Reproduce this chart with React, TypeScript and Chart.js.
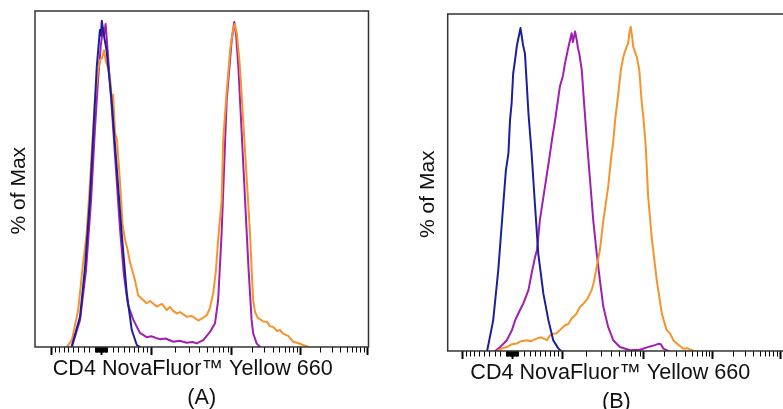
import React, { useEffect, useRef } from 'react';
import { Chart, registerables } from 'chart.js';

Chart.register(...registerables);

const FONT = '"Liberation Sans", Arial, Helvetica, sans-serif';

// Biexponential-like axis: positions (0..100 display units) of the major ticks
const MAJOR_VALUES = [-1000, 0, 1000, 10000, 100000, 1000000];
const MAJOR_U = [0, 15.7, 31.4, 57.0, 78.8, 100];
const LINEAR_WIDTH = 800; // width of the near-linear region around zero
const LINEAR_MINOR = [
  -900, -800, -700, -600, -500, -400, -300, -200, -100,
  -90, -80, -70, -60, -50, -40, -30, -20, -10,
  10, 20, 30, 40, 50, 60, 70, 80, 90,
  100, 200, 300, 400, 500, 600, 700, 800, 900,
];
const LOG_MINOR_FACTORS = [2, 3, 4, 5, 6, 7, 8, 9];
const LOG_DECADES = [1000, 10000, 100000];

// Series: [display position, % of Max]
const A_BLUE: [number, number][] = [
  [6.2, 0], [8.9, 9.3], [10.5, 24.6], [12.0, 45.1], [13.1, 65.6], [14.2, 85.9], [15.2, 97.2],
  [15.5, 95.5], [15.8, 100], [16.3, 96.5], [17.3, 91], [18.9, 75.7], [20.5, 55.3], [22.1, 34.9],
  [23.7, 16.6], [25.3, 5.2], [26.9, 0.6], [27.9, 0],
];
const A_PURPLE: [number, number][] = [
  [6.3, 0], [8.9, 8.3], [10.8, 23.6], [12.4, 45.1], [13.6, 66.5], [14.6, 81.8], [15.5, 92.6],
  [16.2, 97.8], [16.5, 95.6], [17.0, 99.0], [17.4, 94.1], [18.1, 84.9], [19.0, 72.7], [20.3, 54.3],
  [21.6, 35.9], [22.8, 22.1], [24.1, 12.9], [25.8, 8.3], [27.9, 4.3], [30.0, 3.0], [31.5, 3.3],
  [33.2, 2.7], [34.3, 2.4], [36.0, 2.6], [38.5, 1.6], [40.5, 1.9], [42.7, 1.3], [44.5, 1.5],
  [45.9, 1.1], [48.0, 2.1], [50.1, 4.6], [51.7, 7.3], [52.7, 14.4], [53.8, 34.9], [55.4, 75.7],
  [57.0, 94.1], [57.8, 99.6], [58.4, 95.6], [59.1, 85.9], [60.7, 55.3], [62.3, 24.6], [63.3, 8.3],
  [63.8, 4.2], [64.9, 1.1], [66.0, 0],
];
const A_ORANGE: [number, number][] = [
  [4.7, 0], [6.3, 2.1], [8.3, 11.3], [9.8, 25.1], [11.0, 34.9], [12.1, 51.2], [13.6, 75.7],
  [14.6, 84.3], [15.2, 88.0], [15.9, 88.6], [16.5, 91.0], [17.1, 87.4], [17.8, 85.5], [18.4, 82.5],
  [19.0, 75.7], [19.4, 77.3], [20.0, 65.6], [20.6, 63.5], [21.6, 50.3], [22.4, 37.4], [23.2, 32.8],
  [24.0, 29.7], [24.7, 26.1], [26.3, 20.5], [27.3, 15.9], [27.9, 15.3], [30.0, 13.4], [31.1, 14.1],
  [33.2, 12.4], [34.9, 13.2], [36.4, 11.3], [37.4, 12.3], [38.5, 11.0], [39.6, 10.3], [40.6, 10.7],
  [42.7, 9.3], [44.4, 9.5], [46.4, 8.1], [47.9, 8.9], [49.1, 9.8], [50.1, 12.0], [51.2, 16.9],
  [52.0, 23.6], [52.7, 32.8], [53.8, 45.1], [54.3, 63.5], [55.2, 75.7], [56.5, 91.0], [57.4, 97.2],
  [58.0, 99.0], [58.7, 95.6], [59.6, 85.9], [61.2, 60.4], [62.8, 34.9], [63.4, 22.1], [63.8, 14.4],
  [64.4, 10.7], [65.3, 8.9], [67.0, 7.8], [68.2, 7.7], [69.1, 6.4], [70.2, 6.1], [71.4, 4.9],
  [72.3, 5.2], [73.4, 4.0], [74.9, 3.4], [76.5, 1.6], [78.0, 1.2], [79.7, 0.6], [81.3, 0],
];

const B_BLUE: [number, number][] = [
  [7.7, 0], [9.6, 9.4], [11.2, 24.8], [12.8, 45.3], [13.6, 55.5], [14.4, 60.7], [14.9, 70.9],
  [15.4, 76.0], [15.9, 85.3], [16.5, 89.4], [17.1, 94.0], [18.2, 99.2], [19.0, 94.0], [19.6, 91.4],
  [20.1, 83.2], [20.7, 73.0], [21.7, 60.7], [22.8, 44.3], [23.8, 29.9], [25.4, 17.6], [27.0, 9.4],
  [28.5, 3.3], [30.1, 0.8], [31.0, 0],
];
const B_PURPLE: [number, number][] = [
  [10.2, 0], [11.7, 1.1], [13.9, 3.3], [15.5, 6.4], [16.5, 9.4], [18.0, 12.5], [19.1, 14.6],
  [20.7, 18.7], [21.7, 23.8], [22.8, 28.9], [23.4, 31.0], [24.3, 40.2], [25.9, 50.4], [27.5, 60.7],
  [28.1, 64.8], [29.1, 70.9], [30.6, 81.2], [31.6, 84.7], [32.2, 88.3], [33.3, 93.4], [33.8, 95.5],
  [34.3, 97.6], [34.7, 94.9], [35.4, 98.1], [35.9, 95.5], [36.3, 93.0], [36.7, 91.4], [37.5, 86.3],
  [38.0, 79.1], [39.0, 65.8], [40.1, 52.5], [41.1, 40.2], [42.2, 29.9], [43.2, 21.7], [44.3, 13.5],
  [45.8, 7.4], [47.4, 3.3], [49.5, 1.2], [52.7, 0.2], [55.8, 0.4], [59.0, 1.4], [60.5, 1.8],
  [61.6, 2.2], [62.4, 2.1], [63.2, 0.7], [64.7, 0],
];
const B_ORANGE: [number, number][] = [
  [10.8, 0], [12.4, 0.8], [13.9, 1.2], [15.5, 2.1], [17.0, 2.3], [18.4, 3.0], [20.2, 3.3],
  [21.5, 3.0], [23.3, 3.8], [24.7, 4.2], [26.5, 3.3], [27.5, 4.8], [28.5, 5.3], [29.4, 5.4],
  [30.6, 6.4], [32.2, 7.9], [33.2, 8.2], [34.3, 10.0], [35.7, 11.3], [36.9, 13.5], [37.9, 14.4],
  [39.0, 15.6], [40.6, 18.7], [41.3, 21.1], [42.2, 26.0], [43.2, 31.0], [44.3, 40.2], [45.8, 50.4],
  [46.9, 60.7], [47.3, 63.2], [48.0, 70.9], [49.0, 79.1], [49.8, 86.3], [50.6, 90.4], [51.6, 93.4],
  [52.1, 94.5], [52.5, 97.7], [52.9, 99.6], [53.3, 97.0], [53.7, 93.4], [54.8, 90.4], [55.6, 86.3],
  [56.4, 76.0], [56.8, 72.5], [57.4, 65.8], [57.7, 61.7], [58.4, 47.3], [59.5, 35.0], [61.1, 21.7],
  [62.7, 11.5], [64.2, 6.4], [65.3, 5.4], [66.3, 3.3], [67.4, 2.3], [69.5, 0.7], [70.9, 0.8],
  [72.6, 0],
];

const BLUE = '#1d1f9a';
const PURPLE = '#a020ae';
const ORANGE = '#f5942b';

function toU(v: number): number {
  if (Math.abs(v) <= 1000) {
    const half = MAJOR_U[2] - MAJOR_U[1];
    return MAJOR_U[1] + half * (Math.asinh(v / LINEAR_WIDTH) / Math.asinh(1000 / LINEAR_WIDTH));
  }
  const d = Math.floor(Math.log10(v) + 1e-9);
  const i = MAJOR_VALUES.indexOf(Math.pow(10, d));
  return MAJOR_U[i] + (MAJOR_U[i + 1] - MAJOR_U[i]) * (Math.log10(v) - d);
}

function axisTicks() {
  const ticks: { value: number; major: boolean }[] = [];
  MAJOR_U.forEach((u) => ticks.push({ value: u, major: true }));
  LINEAR_MINOR.forEach((v) => ticks.push({ value: toU(v), major: false }));
  LOG_DECADES.forEach((d) => LOG_MINOR_FACTORS.forEach((k) => ticks.push({ value: toU(d * k), major: false })));
  return ticks.sort((a, b) => a.value - b.value);
}

const framePlugin = {
  id: 'frame',
  afterDatasetsDraw(chart: any) {
    const { ctx, chartArea: a } = chart;
    ctx.save();
    ctx.strokeStyle = '#333';
    ctx.lineWidth = 1.5;
    ctx.strokeRect(a.left, a.top, a.right - a.left, a.bottom - a.top);
    ctx.restore();
  },
};

type PanelProps = {
  left: number;
  width: number;
  height: number;
  pad: { left: number; top: number; right: number; bottom: number };
  xMin: number;
  xMax: number;
  yMax: number;
  yTitlePad: { top: number; bottom: number };
  xTitle: string[];
  series: { points: [number, number][]; color: string }[];
};

function Panel(p: PanelProps) {
  const ref = useRef<HTMLCanvasElement>(null);
  useEffect(() => {
    const chart = new Chart(ref.current as HTMLCanvasElement, {
      type: 'line',
      data: {
        datasets: p.series.map((s) => ({
          data: s.points.map(([x, y]) => ({ x, y })),
          borderColor: s.color,
          borderWidth: 2,
          borderJoinStyle: 'round',
          borderCapStyle: 'round',
          pointRadius: 0,
          tension: 0,
          fill: false,
        })),
      },
      options: {
        animation: false,
        responsive: false,
        devicePixelRatio: 1,
        layout: { padding: p.pad },
        plugins: { legend: { display: false }, tooltip: { enabled: false } },
        scales: {
          x: {
            type: 'linear',
            min: p.xMin,
            max: p.xMax,
            border: { display: false },
            afterBuildTicks: (s: any) => {
              s.ticks = axisTicks();
            },
            ticks: { display: false, autoSkip: false },
            grid: {
              display: true,
              drawOnChartArea: false,
              drawTicks: true,
              tickLength: 8,
              tickColor: '#000',
              tickWidth: (c: any) => (c.tick && c.tick.major ? 2 : 1),
              tickBorderDash: (c: any) => (c.tick && c.tick.major ? [] : [5.5, 40]),
            },
            title: {
              display: true,
              text: p.xTitle,
              color: '#111',
              font: { family: FONT, size: 21.6, lineHeight: 1.32 },
              padding: { top: 0, bottom: 0 },
            },
          },
          y: {
            type: 'linear',
            min: 0,
            max: p.yMax,
            border: { display: false },
            ticks: { display: false },
            grid: { display: false, drawTicks: false },
            title: {
              display: true,
              text: '% of Max    ',
              color: '#111',
              font: { family: FONT, size: 21, lineHeight: 1.2 },
              padding: p.yTitlePad,
            },
          },
        },
      } as any,
      plugins: [framePlugin],
    });
    return () => chart.destroy();
  }, []);
  return (
    <canvas
      ref={ref}
      width={p.width}
      height={p.height}
      style={{ position: 'absolute', left: p.left, top: 0, width: p.width, height: p.height }}
    />
  );
}

export default function App() {
  return (
    <div
      style={{
        position: 'fixed',
        left: 0,
        top: 0,
        width: 783,
        height: 409,
        overflow: 'hidden',
        background: '#fff',
      }}
    >
      <Panel
        left={0}
        width={400}
        height={412}
        pad={{ left: 0, top: 11, right: 31.5, bottom: 0 }}
        xMin={-5.39}
        xMax={100.38}
        yMax={103}
        yTitlePad={{ top: 6.9, bottom: 2.9 }}
        xTitle={['CD4 NovaFluor™ Yellow 660   ', '(A)']}
        series={[
          { points: A_BLUE, color: BLUE },
          { points: A_ORANGE, color: ORANGE },
          { points: A_PURPLE, color: PURPLE },
        ]}
      />
      <Panel
        left={400}
        width={400}
        height={416}
        pad={{ left: 0, top: 14, right: 15, bottom: 0 }}
        xMin={-4.72}
        xMax={101.48}
        yMax={103.5}
        yTitlePad={{ top: 16.1, bottom: 6.4 }}
        xTitle={['CD4 NovaFluor™ Yellow 660  ', '(B)']}
        series={[
          { points: B_BLUE, color: BLUE },
          { points: B_ORANGE, color: ORANGE },
          { points: B_PURPLE, color: PURPLE },
        ]}
      />
    </div>
  );
}
